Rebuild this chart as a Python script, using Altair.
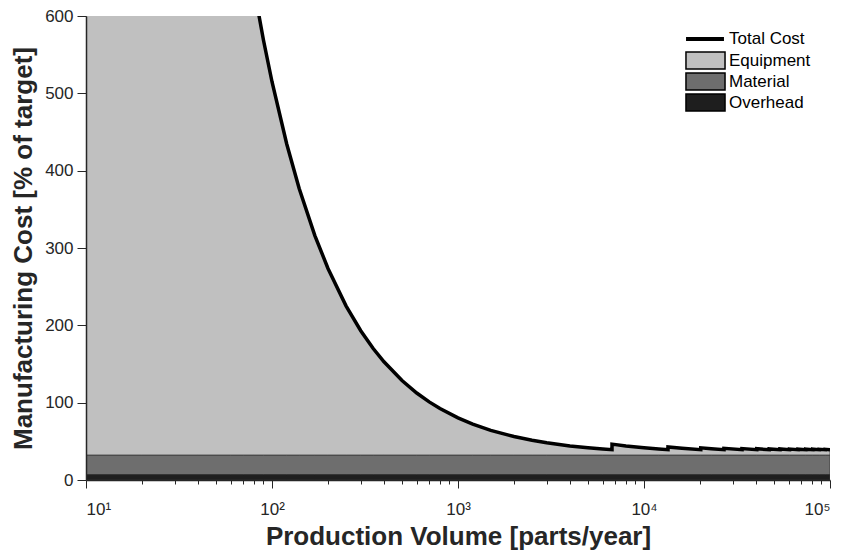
import altair as alt
import pandas as pd

# Production volume [parts/year]; repeated volumes mark the step where another
# machine is added to the line.
VOLUME = [10, 20, 40, 60, 70, 80, 90, 100, 120, 140, 170, 200, 250, 300, 350,
          400, 500, 600, 700, 800, 1000, 1200, 1500, 2000, 2500, 3000, 4000,
          5000, 6000, 6730,
          6730, 8000, 10000, 12000, 13460,
          13460, 16000, 20190,
          20190, 23000, 26920,
          26920, 33650,
          33650, 40380,
          40380, 47110,
          47110, 53840,
          53840, 60570,
          60570, 67300,
          67300, 74030,
          74030, 80760,
          80760, 87490,
          87490, 94220,
          94220, 100000]

# Equipment share of the part cost [% of target] at each volume above.
EQUIPMENT = [4830, 2415, 1207.5, 805, 690, 603.8, 536.7, 483, 402.5, 345,
             284.1, 241.5, 193.2, 161, 138, 120.8, 96.6, 80.5, 69, 60.4, 48.3,
             40.3, 32.2, 24.2, 19.3, 16.1, 12.1, 9.7, 8.1, 7.2,
             14.4, 12.1, 9.7, 8.1, 7.2,
             10.8, 9.1, 7.2,
             9.6, 8.4, 7.2,
             9.0, 7.2,
             8.6, 7.2,
             8.4, 7.2,
             8.2, 7.2,
             8.1, 7.2,
             8.0, 7.2,
             7.9, 7.2,
             7.8, 7.2,
             7.8, 7.2,
             7.7, 7.2,
             7.7, 7.25]

OVERHEAD = 7      # [% of target], flat over volume
MATERIAL = 25     # [% of target], flat over volume

COMPONENTS = ["Equipment", "Material", "Overhead"]
COMPONENT_COLORS = ["#c0c0c0", "#6e6e6e", "#1e1e1e"]

DECADES = [10, 100, 1000, 10000, 100000]
X_TICKS = [m * 10 ** k for k in range(1, 5) for m in range(1, 10)] + [100000]
Y_TICKS = [0, 100, 200, 300, 400, 500, 600]

FONT = "Liberation Sans"
INK = "#262626"

idx = list(range(len(VOLUME)))
total = [OVERHEAD + MATERIAL + e for e in EQUIPMENT]

# One table per band: each component fills from lo to hi.
bands = {
    "Overhead": pd.DataFrame({"idx": idx, "volume": VOLUME,
                              "lo": [0] * len(VOLUME),
                              "hi": [OVERHEAD] * len(VOLUME)}),
    "Material": pd.DataFrame({"idx": idx, "volume": VOLUME,
                              "lo": [OVERHEAD] * len(VOLUME),
                              "hi": [OVERHEAD + MATERIAL] * len(VOLUME)}),
    "Equipment": pd.DataFrame({"idx": idx, "volume": VOLUME,
                               "lo": [OVERHEAD + MATERIAL] * len(VOLUME),
                               "hi": total}),
}

totals = pd.DataFrame({
    "idx": idx,
    "volume": VOLUME,
    "total": total,
    "series": ["Total Cost"] * len(VOLUME),
})

x_scale = alt.Scale(type="log", domain=[10, 100000], nice=False)
y_scale = alt.Scale(domain=[0, 600], nice=False)

decade_test = "indexof(%s, datum.value) >= 0" % str(DECADES)
superscript_labels = (
    "datum.value == 10 ? '10\u00b9' : datum.value == 100 ? '10\u00b2' : "
    "datum.value == 1000 ? '10\u00b3' : datum.value == 10000 ? '10\u2074' : "
    "datum.value == 100000 ? '10\u2075' : ''"
)

x_axis = alt.Axis(
    values=X_TICKS, labelExpr=superscript_labels,
    title="Production Volume [parts/year]",
    tickSize={"condition": {"test": decade_test, "value": 8}, "value": 4},
    tickColor=INK, tickWidth=1, domainColor=INK, domainWidth=1.5,
    labelFont=FONT, labelFontSize=17, labelColor=INK, labelPadding=13,
    labelOverlap=False,
    titleFont=FONT, titleFontSize=26, titleFontWeight="bold", titleColor=INK,
    titleY=56, titleBaseline="middle", grid=False, zindex=2,
)
y_axis = alt.Axis(
    values=Y_TICKS, title="Manufacturing Cost [% of target]",
    tickSize=9, tickColor=INK, tickWidth=1, domainColor=INK, domainWidth=1.5,
    labelFont=FONT, labelFontSize=17, labelColor=INK, labelPadding=4,
    titleFont=FONT, titleFontSize=26, titleFontWeight="bold", titleColor=INK,
    titleX=-63, titleY=232, titleBaseline="middle", titleAlign="center",
    grid=False, zindex=2,
)

# Wide legend swatches: a 39x17 box and a 38 px stroke.
rect_symbol = "M-2.79,-1.21L2.79,-1.21L2.79,1.21L-2.79,1.21Z"
line_symbol = "M-2.71,0L2.71,0"

fill_legend = alt.Legend(
    title=None, orient="none", legendX=611, legendY=36,
    symbolType=rect_symbol, symbolSize=196, symbolStrokeColor="black",
    symbolStrokeWidth=1.5, symbolOpacity=1, rowPadding=-2,
    labelOffset=15, labelFont=FONT, labelFontSize=17, labelColor="black",
    padding=0,
)
fill_scale = alt.Scale(domain=COMPONENTS, range=COMPONENT_COLORS)


def band_layer(name):
    return alt.Chart(bands[name]).transform_calculate(
        component="'%s'" % name
    ).mark_area(
        clip=True, opacity=1, orient="vertical", stroke="#333333",
        strokeWidth=0.8, interpolate="linear",
    ).encode(
        x=alt.X("volume:Q", scale=x_scale, axis=x_axis),
        y=alt.Y("hi:Q", scale=y_scale, axis=y_axis, stack=None),
        y2="lo:Q",
        fill=alt.Fill("component:N", scale=fill_scale, legend=fill_legend),
    )


line_layer = alt.Chart(totals).mark_line(
    clip=True, color="black", strokeWidth=3.5, interpolate="linear"
).encode(
    x=alt.X("volume:Q", scale=x_scale, axis=x_axis),
    y=alt.Y("total:Q", scale=y_scale, axis=y_axis),
    order="idx:Q",
    stroke=alt.Stroke(
        "series:N",
        scale=alt.Scale(domain=["Total Cost"], range=["black"]),
        legend=alt.Legend(
            title=None, orient="none", legendX=610, legendY=14,
            symbolType=line_symbol, symbolSize=196, symbolStrokeWidth=4,
            labelOffset=15, labelFont=FONT, labelFontSize=17, labelColor="black",
            padding=0,
        ),
    ),
)

chart = (
    alt.layer(
        band_layer("Equipment"),
        band_layer("Material"),
        band_layer("Overhead"),
        line_layer,
    )
    .properties(
        width=744, height=464,
        autosize=alt.AutoSizeParams(type="none"),
        padding={"left": 86, "top": 16, "right": 14, "bottom": 72},
        background="white",
    )
    .configure_view(stroke=None)
)

chart.save("out.html", embed_options={"renderer": "svg", "actions": False})
